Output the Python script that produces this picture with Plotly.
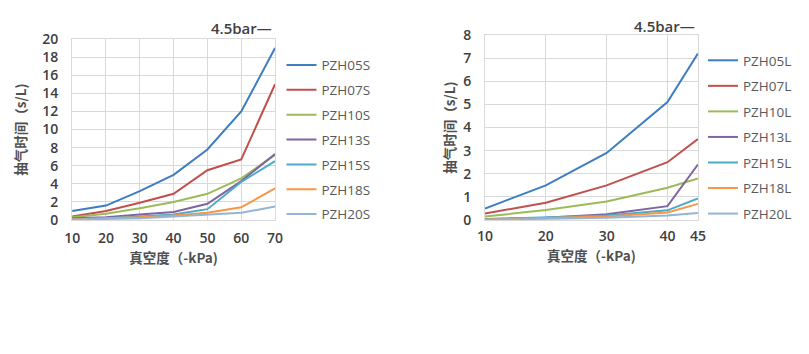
import plotly.graph_objects as go

# ---- data ----
x_s = [10, 20, 30, 40, 50, 60, 70]
names_s = ["PZH05S", "PZH07S", "PZH10S", "PZH13S", "PZH15S", "PZH18S", "PZH20S"]
pzh05s = [1.0, 1.6, 3.2, 5.0, 7.8, 12.0, 19.0]
pzh07s = [0.4, 1.0, 1.9, 2.9, 5.5, 6.7, 15.0]
pzh10s = [0.3, 0.7, 1.3, 2.0, 2.9, 4.6, 7.2]
pzh13s = [0.2, 0.3, 0.6, 0.9, 1.8, 4.3, 7.3]
pzh15s = [0.1, 0.2, 0.4, 0.6, 1.2, 4.2, 6.5]
pzh18s = [0.1, 0.2, 0.3, 0.5, 0.8, 1.4, 3.5]
pzh20s = [0.05, 0.1, 0.2, 0.4, 0.6, 0.8, 1.5]

x_l = [10, 20, 30, 40, 45]
names_l = ["PZH05L", "PZH07L", "PZH10L", "PZH13L", "PZH15L", "PZH18L", "PZH20L"]
pzh05l = [0.5, 1.5, 2.9, 5.1, 7.2]
pzh07l = [0.28, 0.75, 1.5, 2.5, 3.5]
pzh10l = [0.15, 0.43, 0.8, 1.4, 1.8]
pzh13l = [0.05, 0.1, 0.25, 0.6, 2.4]
pzh15l = [0.03, 0.1, 0.2, 0.42, 0.93]
pzh18l = [0.02, 0.08, 0.15, 0.33, 0.7]
pzh20l = [0.01, 0.05, 0.1, 0.2, 0.3]

y_ticks_s = [0, 2, 4, 6, 8, 10, 12, 14, 16, 18, 20]
y_ticks_l = [0, 1, 2, 3, 4, 5, 6, 7, 8]
ytitle = "抽气时间（s/L)"
xtitle = "真空度（-kPa)"
note = "4.5bar—"

colors = ["#3D7DC0", "#C0504D", "#9BBB59", "#8064A2", "#4BACC6", "#F79646", "#95B3D7"]

series_s = [pzh05s, pzh07s, pzh10s, pzh13s, pzh15s, pzh18s, pzh20s]
series_l = [pzh05l, pzh07l, pzh10l, pzh13l, pzh15l, pzh18l, pzh20l]

W, H = 809, 354
OFF = 8                       # default body margin of the page
SX, SY = 809 / 825, 354 / 370  # observed capture scaling


def px_x(p):
    return (p / SX - OFF) / W


def px_y(p):
    return 1 - (p / SY - OFF) / H


fig = go.Figure()
for i, (n, ys) in enumerate(zip(names_s, series_s)):
    fig.add_trace(go.Scatter(x=x_s, y=ys, name=n, mode="lines",
                             line=dict(color=colors[i], width=2),
                             xaxis="x", yaxis="y", legend="legend",
                             legendgroup=n))
for i, (n, ys) in enumerate(zip(names_l, series_l)):
    fig.add_trace(go.Scatter(x=x_l, y=ys, name=n, mode="lines",
                             line=dict(color=colors[i], width=2),
                             xaxis="x2", yaxis="y2", legend="legend2",
                             legendgroup=n))

tickfont = dict(family="Open Sans, Noto Sans", size=14, color="#404040", weight=600)
titlefont = dict(family="Noto Sans CJK SC", size=13.5, color="#505050", weight=600)
legfont = dict(family="Open Sans, Noto Sans", size=13.5, color="#595959", weight=500)
notefont = dict(family="Open Sans, Noto Sans", size=15, color="#404040", weight=600)
grid = "#D9D9D9"

axis_common = dict(showgrid=True, gridcolor=grid, gridwidth=1, zeroline=False,
                   showline=True, mirror=True, linecolor=grid, linewidth=1,
                   tickfont=tickfont, ticks="outside", tickcolor="rgba(0,0,0,0)",
                   fixedrange=True)

fig.update_layout(
    width=W, height=H,
    margin=dict(l=0, r=0, t=0, b=0),
    paper_bgcolor="white", plot_bgcolor="white",
    xaxis=dict(domain=[px_x(72), px_x(275)], range=[10, 70], tickvals=x_s,
               anchor="y", ticklen=5,
               title=dict(text=xtitle, font=titlefont, standoff=7),
               **axis_common),
    yaxis=dict(domain=[px_y(220), px_y(37)], range=[0, 20], tickvals=y_ticks_s,
               anchor="x", ticklen=10,
               title=dict(text=ytitle, font=titlefont, standoff=12),
               **axis_common),
    xaxis2=dict(domain=[px_x(485), px_x(698)], range=[10, 45], tickvals=x_l,
                anchor="y2", ticklen=3,
                title=dict(text=xtitle, font=titlefont, standoff=6),
                **axis_common),
    yaxis2=dict(domain=[px_y(220), px_y(33)], range=[0, 8], tickvals=y_ticks_l,
                anchor="x2", ticklen=10,
                title=dict(text=ytitle, font=titlefont, standoff=4),
                **axis_common),
    legend=dict(x=279 / W, y=1 - 42 / H, xanchor="left", yanchor="top",
                font=legfont, tracegroupgap=4.3, bgcolor="rgba(0,0,0,0)"),
    legend2=dict(x=709 / W, y=1 - 37 / H, xanchor="left", yanchor="top",
                 font=legfont, tracegroupgap=5, bgcolor="rgba(0,0,0,0)"),
    annotations=[
        dict(text=note, x=px_x(274), y=px_y(26), xref="paper", yref="paper",
             xanchor="right", yanchor="middle", showarrow=False, font=notefont),
        dict(text=note, x=px_x(697), y=px_y(24), xref="paper", yref="paper",
             xanchor="right", yanchor="middle", showarrow=False, font=notefont),
    ],
)

fig.write_html("out.html")
